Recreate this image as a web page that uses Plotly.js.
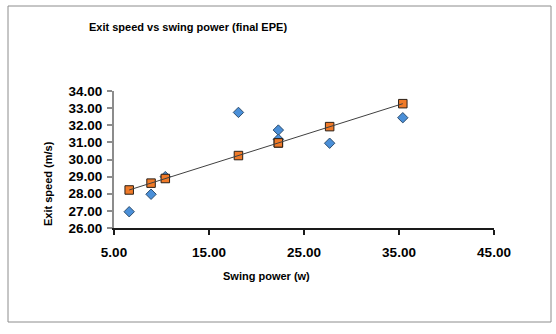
<!DOCTYPE html>
<html><head><meta charset="utf-8">
<script src="https://cdn.plot.ly/plotly-3.0.1.min.js"></script>
<style>html,body{margin:0;padding:0;background:#fff}#c{width:556px;height:334px}</style>
</head><body><div id="c"></div>
<script>
var swingPower = [6.6, 8.9, 10.4, 18.1, 22.3, 22.3, 27.7, 35.4];
var exitSpeed = [26.95, 27.97, 29.0, 32.75, 31.72, 31.18, 30.95, 32.44];
var fittedSpeed = [28.22, 28.62, 28.89, 30.23, 30.97, 30.97, 31.92, 33.26];
var xTicks = [5, 15, 25, 35, 45];
var xTickLabels = ["5.00", "15.00", "25.00", "35.00", "45.00"];
var yTicks = [26, 27, 28, 29, 30, 31, 32, 33, 34];
var yTickLabels = ["26.00", "27.00", "28.00", "29.00", "30.00", "31.00", "32.00", "33.00", "34.00"];

var font = "Liberation Sans, Arial, sans-serif";
var traces = [
  {x: swingPower, y: exitSpeed, mode: "markers", type: "scatter",
   marker: {symbol: "diamond", size: 8, color: "#4a8fd8", line: {color: "#2f4f6f", width: 1}}, showlegend: false},
  {x: swingPower, y: fittedSpeed, mode: "markers", type: "scatter",
   marker: {symbol: "square", size: 8.5, color: "#f07a28", line: {color: "#2a2018", width: 1}}, showlegend: false},
  {x: swingPower, y: fittedSpeed, mode: "lines", type: "scatter",
   line: {color: "#404040", width: 1}, hoverinfo: "skip", showlegend: false}
];
var layout = {
  width: 556, height: 334,
  margin: {l: 114, r: 62, t: 91, b: 106},
  paper_bgcolor: "#fff", plot_bgcolor: "#fff",
  showlegend: false,
  xaxis: {range: [5, 45], tickvals: xTicks, ticktext: xTickLabels, showgrid: false, zeroline: false,
    showline: true, linecolor: "#1a1a1a", linewidth: 2, ticks: "outside", ticklen: 5, tickwidth: 2, tickcolor: "#1a1a1a",
    ticklabelstandoff: 6,
    tickfont: {family: font, size: 13.5, color: "#000", weight: "bold"}, fixedrange: true},
  yaxis: {range: [26, 34], tickvals: yTicks, ticktext: yTickLabels, showgrid: false, zeroline: false,
    showline: true, linecolor: "#8c8c8c", linewidth: 2, ticks: "outside", ticklen: 5, tickwidth: 2, tickcolor: "#8c8c8c",
    ticklabelstandoff: 2,
    tickfont: {family: font, size: 13.5, color: "#000", weight: "bold"}, fixedrange: true},
  annotations: [
    {text: "<b>Exit speed vs swing power (final EPE)</b>", xref: "paper", yref: "paper",
     x: (87 - 114) / 380, y: (228 - 27) / 137, xanchor: "left", yanchor: "middle", showarrow: false,
     font: {family: font, size: 11, color: "#000"}},
    {text: "<b>Swing power (w)</b>", xref: "paper", yref: "paper",
     x: (266 - 114) / 380, y: (228 - 276) / 137, xanchor: "center", yanchor: "middle", showarrow: false,
     font: {family: font, size: 11, color: "#000"}},
    {text: "<b>Exit speed (m/s)</b>", xref: "paper", yref: "paper", textangle: -90,
     x: (48 - 114) / 380, y: (228 - 184) / 137, xanchor: "center", yanchor: "middle", showarrow: false,
     font: {family: font, size: 11, color: "#000"}}
  ],
  shapes: [
    {type: "rect", xref: "paper", yref: "paper",
     x0: (8 - 114) / 380, x1: (551 - 114) / 380, y0: (228 - 322) / 137, y1: (228 - 6) / 137,
     line: {color: "#8c8c8c", width: 1}, fillcolor: "rgba(0,0,0,0)", layer: "below"}
  ]
};
Plotly.newPlot("c", traces, layout, {displayModeBar: false, staticPlot: true});
</script></body></html>
